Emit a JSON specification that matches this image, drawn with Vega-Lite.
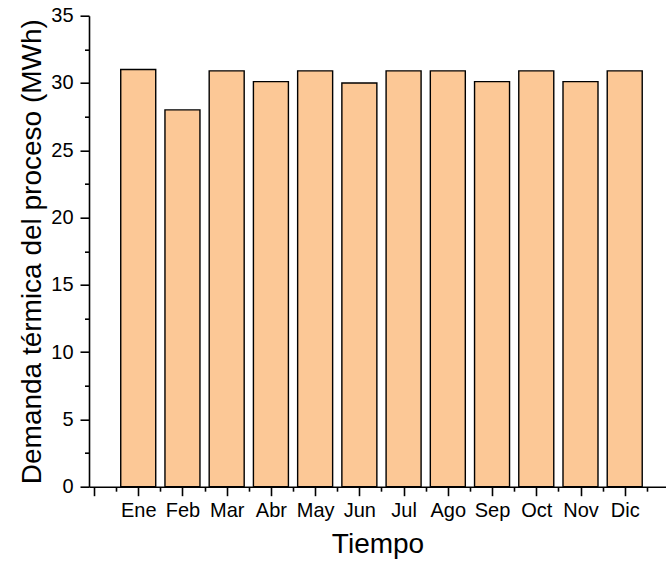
{
  "$schema": "https://vega.github.io/schema/vega-lite/v6.json",
  "autosize": {"type": "none"},
  "padding": {"left": 89, "top": 15.7, "right": 0, "bottom": 80},
  "width": 577,
  "height": 471,
  "background": "white",
  "config": {
    "view": {"stroke": null},
    "font": "Liberation Sans",
    "axis": {
      "grid": false,
      "domainColor": "black",
      "domainWidth": 1.6,
      "tickColor": "black",
      "tickWidth": 1.6,
      "labelColor": "black",
      "labelFont": "Liberation Sans",
      "labelFontSize": 20,
      "titleFont": "Liberation Sans",
      "titleFontSize": 28,
      "titleFontWeight": "normal",
      "titleColor": "black",
      "labelOverlap": false,
      "labelFlush": false,
      "labelBound": false
    }
  },
  "data": {
    "values": [
      {"n": 1, "mes": "Ene", "demanda": 31.0},
      {"n": 2, "mes": "Feb", "demanda": 28.0},
      {"n": 3, "mes": "Mar", "demanda": 30.9},
      {"n": 4, "mes": "Abr", "demanda": 30.1},
      {"n": 5, "mes": "May", "demanda": 30.9},
      {"n": 6, "mes": "Jun", "demanda": 30.0},
      {"n": 7, "mes": "Jul", "demanda": 30.9},
      {"n": 8, "mes": "Ago", "demanda": 30.9},
      {"n": 9, "mes": "Sep", "demanda": 30.1},
      {"n": 10, "mes": "Oct", "demanda": 30.9},
      {"n": 11, "mes": "Nov", "demanda": 30.1},
      {"n": 12, "mes": "Dic", "demanda": 30.9}
    ]
  },
  "mark": {
    "type": "bar",
    "orient": "vertical",
    "size": 35,
    "fill": "#FCC896",
    "stroke": "black",
    "strokeWidth": 1.4
  },
  "encoding": {
    "x": {
      "field": "n",
      "type": "quantitative",
      "scale": {"domain": [0, 12.82], "nice": false, "zero": false},
      "axis": {
        "title": "Tiempo",
        "titlePadding": 10,
        "values": [0, 0.5, 1, 1.5, 2, 2.5, 3, 3.5, 4, 4.5, 5, 5.5, 6, 6.5, 7, 7.5, 8, 8.5, 9, 9.5, 10, 10.5, 11, 11.5, 12, 12.5],
        "tickSize": {"condition": {"test": "datum.value % 1 != 0", "value": 4.5}, "value": 9},
        "labelPadding": 5,
        "labelExpr": "datum.value % 1 == 0 && datum.value >= 1 ? ['Ene','Feb','Mar','Abr','May','Jun','Jul','Ago','Sep','Oct','Nov','Dic'][datum.value - 1] : ''"
      }
    },
    "y": {
      "field": "demanda",
      "type": "quantitative",
      "scale": {"domain": [0, 35], "nice": false},
      "axis": {
        "title": "Demanda térmica del proceso (MWh)",
        "titlePadding": 4,
        "values": [0, 2.5, 5, 7.5, 10, 12.5, 15, 17.5, 20, 22.5, 25, 27.5, 30, 32.5, 35],
        "tickSize": {"condition": {"test": "datum.value % 5 != 0", "value": 4.5}, "value": 9},
        "labelPadding": 7,
        "labelExpr": "datum.value % 5 == 0 ? format(datum.value, 'd') : ''"
      }
    }
  }
}
